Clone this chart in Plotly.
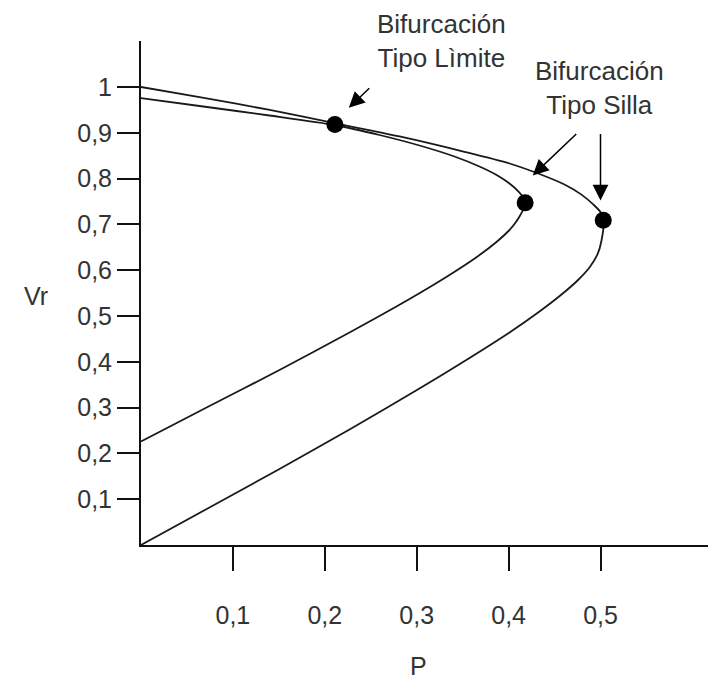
import plotly.graph_objects as go

# Outer PV curve (upper branch -> nose -> lower branch)
outer_p = [0.0, 0.0637, 0.140, 0.2106, 0.2813, 0.3531, 0.4010, 0.4336, 0.4608, 0.4793, 0.4924, 0.500, 0.5033,
           0.5011, 0.4967, 0.4880, 0.4750, 0.4576, 0.4336, 0.4010, 0.3575, 0.3030, 0.2269, 0.1507, 0.0745, 0.0]
outer_v = [1.0, 0.978, 0.950, 0.921, 0.892, 0.858, 0.833, 0.810, 0.787, 0.765, 0.743, 0.727, 0.709,
           0.6648, 0.6343, 0.6059, 0.5775, 0.5469, 0.5098, 0.4640, 0.4083, 0.3417, 0.2522, 0.1659, 0.0819, 0.0]

# Inner PV curve
inner_p = [0.0, 0.0637, 0.1398, 0.2106, 0.2595, 0.3030, 0.3411, 0.3683, 0.3879, 0.4010, 0.4108, 0.4162, 0.4184,
           0.4162, 0.4119, 0.4064, 0.3999, 0.3868, 0.3662, 0.3357, 0.2922, 0.2269, 0.1507, 0.0745, 0.0]
inner_v = [0.9756, 0.9585, 0.9378, 0.9170, 0.8952, 0.8723, 0.8483, 0.8264, 0.8068, 0.7893, 0.7718, 0.7587, 0.7467,
           0.7336, 0.7173, 0.7009, 0.6856, 0.6616, 0.6299, 0.5895, 0.5371, 0.4640, 0.3821, 0.3035, 0.2260]

# Bifurcation points
bif_p = [0.211, 0.418, 0.503]
bif_v = [0.918, 0.747, 0.709]

x_tickvals = [0.1, 0.2, 0.3, 0.4, 0.5]
x_ticktext = ["0,1", "0,2", "0,3", "0,4", "0,5"]
y_tickvals = [0.1, 0.2, 0.3, 0.4, 0.5, 0.6, 0.7, 0.8, 0.9, 1.0]
y_ticktext = ["0,1", "0,2", "0,3", "0,4", "0,5", "0,6", "0,7", "0,8", "0,9", "1"]

FONT = "Liberation Sans, Arial, sans-serif"
TXT = "#333333"
LINE = "#1a1a1a"

fig = go.Figure()
fig.add_trace(go.Scatter(x=outer_p, y=outer_v, mode="lines",
                         line=dict(color=LINE, width=1.8, shape="spline", smoothing=0.7),
                         showlegend=False, hoverinfo="skip"))
fig.add_trace(go.Scatter(x=inner_p, y=inner_v, mode="lines",
                         line=dict(color=LINE, width=1.8, shape="spline", smoothing=0.7),
                         showlegend=False, hoverinfo="skip"))
fig.add_trace(go.Scatter(x=bif_p, y=bif_v, mode="markers",
                         marker=dict(color="black", size=17),
                         showlegend=False, hoverinfo="skip", cliponaxis=False))

annotations = [
    dict(text="Bifurcación<br>Tipo Lìmite", xref="paper", yref="paper",
         x=(441 - 141) / 567, y=(545 - 41) / 504, xanchor="center", yanchor="middle",
         showarrow=False, font=dict(family=FONT, size=26, color=TXT)),
    dict(text="Bifurcación<br>Tipo Silla", xref="paper", yref="paper",
         x=(599 - 141) / 567, y=(545 - 88) / 504, xanchor="center", yanchor="middle",
         showarrow=False, font=dict(family=FONT, size=26, color=TXT)),
    dict(text="Vr", xref="paper", yref="paper",
         x=(36 - 141) / 567, y=(545 - 296) / 504, xanchor="center", yanchor="middle",
         showarrow=False, font=dict(family=FONT, size=25, color=TXT)),
    dict(text="P", xref="paper", yref="paper",
         x=(418 - 141) / 567, y=(545 - 666) / 504, xanchor="center", yanchor="middle",
         showarrow=False, font=dict(family=FONT, size=25, color=TXT)),
    # arrows
    dict(text="", x=0.2261, y=0.9546, xref="x", yref="y", ax=22, ay=-21,
         showarrow=True, arrowhead=2, arrowsize=2.1, arrowwidth=1.5, arrowcolor="black", standoff=0),
    dict(text="", x=0.4263, y=0.8068, xref="x", yref="y", ax=45, ay=-43,
         showarrow=True, arrowhead=2, arrowsize=2.1, arrowwidth=1.5, arrowcolor="black", standoff=0),
    dict(text="", x=0.500, y=0.7522, xref="x", yref="y", ax=0, ay=-68,
         showarrow=True, arrowhead=2, arrowsize=2.1, arrowwidth=1.5, arrowcolor="black", standoff=0),
]

fig.update_layout(
    width=708, height=682,
    margin=dict(l=141, r=0, t=41, b=137),
    paper_bgcolor="white", plot_bgcolor="white",
    font=dict(family=FONT, size=25, color=TXT),
    annotations=annotations,
    xaxis=dict(range=[0, 567 / 919], showgrid=False, zeroline=False,
               showline=True, linecolor="#111", linewidth=2,
               ticks="outside", ticklen=24, tickwidth=2, tickcolor="#111",
               tickvals=x_tickvals, ticktext=x_ticktext, ticklabelstandoff=23,
               tickfont=dict(family=FONT, size=25, color=TXT)),
    yaxis=dict(range=[0, 504 / 458], showgrid=False, zeroline=False,
               showline=True, linecolor="#111", linewidth=2,
               ticks="outside", ticklen=22, tickwidth=2, tickcolor="#111",
               tickvals=y_tickvals, ticktext=y_ticktext,
               tickfont=dict(family=FONT, size=25, color=TXT)),
)

fig.write_html("out.html")
